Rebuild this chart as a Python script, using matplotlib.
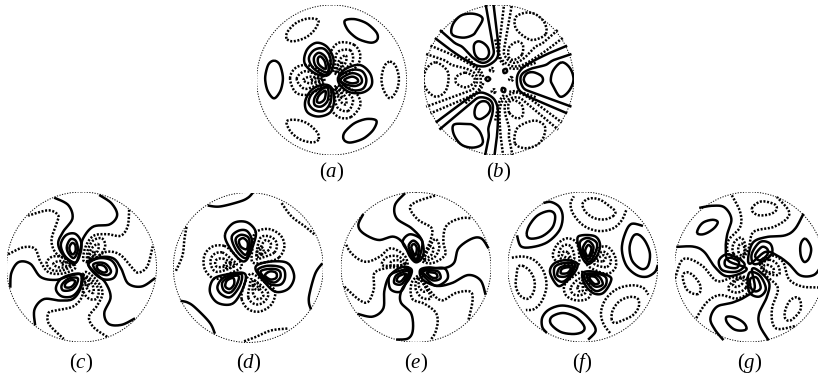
# -*- coding: utf-8 -*-

import matplotlib
matplotlib.use('Agg')
import matplotlib.pyplot as plt
import numpy as np

plt.rcParams['mathtext.fontset'] = 'custom'
plt.rcParams['mathtext.it'] = 'Liberation Serif:italic'
plt.rcParams['mathtext.rm'] = 'Liberation Serif'
plt.rcParams['font.family'] = ['Liberation Serif']

# contours, one sector per panel (the rest follows from the
# threefold symmetry). units: 225 = disc radius, y pointing down
a_solid_closed = [
    [(20,-10),(45,-35),(85,-45),(115,-20),(120,15),(95,37),(55,37),(25,15)],
    [(22,-5),(55,-29),(90,-27),(104,0),(92,27),(55,28)],
    [(27,-2),(58,-20),(84,-13),(90,7),(70,18),(40,12)],
    [(38,-1),(60,-10),(76,-4),(78,6),(62,10),(46,6)],
    [(-173,-58),(-157,-48),(-148,-20),(-147,5),(-155,35),(-173,55),(-191,35),(-199,5),(-198,-20),(-189,-48)],
]
a_dot_closed = [
    [(-125,-5),(-110,-35),(-80,-45),(-50,-35),(-25,-10),(-25,8),(-50,35),(-80,45),(-110,35)],
    [(-105,-3),(-85,-25),(-60,-22),(-30,-5),(-30,5),(-60,22),(-85,25)],
    [(-85,0),(-65,-10),(-35,-3),(-35,3),(-65,10)],
    [(-62,0),(-45,-5),(-28,0),(-45,5)],
    [(175,-55),(190,-45),(200,-18),(201,8),(193,35),(175,55),(158,35),(150,8),(151,-18),(160,-45)],
]

b_solid_open = [
    [(205,-103),(150,-80),(100,-55),(70,-35),(55,-10),(58,25),(80,45),(130,68),(205,100)],
    [(218,-78),(165,-60),(140,-45),(100,-35),(72,-20),(65,0),(75,25),(100,37),(150,55),(218,80)],
]
b_solid_closed = [
    [(75,-3),(85,-20),(105,-23),(128,-12),(132,3),(120,15),(100,20),(82,13)],
    [(189,-53),(214,-35),(224,0),(209,35),(184,50),(164,20),(156,0),(164,-30)],
    [(-33,-9),(-26,-3),(-33,3),(-40,-3)],
]
b_dot_open = [
    [(-205,-103),(-150,-80),(-100,-55),(-70,-35),(-55,-10),(-58,25),(-80,45),(-130,68),(-205,100)],
    [(-218,-78),(-165,-60),(-140,-45),(-100,-35),(-72,-20),(-65,0),(-75,25),(-100,37),(-150,55),(-218,80)],
    [(-100,-70),(-75,-48),(-55,-28),(-46,-8)],
    [(-100,70),(-75,48),(-55,28),(-46,8)],
]
b_dot_closed = [
    [(-101,-22),(-78,-12),(-72,0),(-78,12),(-101,22),(-125,12),(-130,0),(-125,-12)],
    [(-189,-53),(-156,-30),(-151,0),(-161,35),(-189,50),(-216,30),(-226,0),(-216,-35)],
    [(37,-9),(43,-3),(37,3),(31,-3)],
]

c_solid_open = [
    [(-82,-208),(-40,-186),(-27,-146),(-55,-106),(-70,-71),(-55,-36),(-20,-11),(-5,-46),(5,-86),
     (35,-121),(85,-128),(107,-156),(90,-191),(53,-216)],
]
c_solid_closed = [
    [(-62,-66),(-47,-95),(-20,-100),(-2,-78),(-2,-46),(-18,-14),(-48,-31)],
    [(-44,-61),(-33,-83),(-17,-78),(-11,-51),(-23,-27),(-39,-41)],
    [(-36,-60),(-28,-72),(-19,-66),(-18,-48),(-26,-38),(-34,-46)],
]
c_dot_open = [
    [(-220,-38),(-175,-59),(-140,-55),(-125,-20),(-100,15),(-60,20),(-20,5),(-30,-15),(-75,-40),
     (-90,-80),(-75,-130),(-70,-155),(-100,-170),(-160,-154)],
]
c_dot_closed = [
    [(-105,-10),(-90,-30),(-60,-30),(-25,-10),(-50,8),(-85,10)],
    [(-85,-8),(-65,-18),(-30,-8),(-60,2)],
    [(-60,-10),(-45,-14),(-26,-6),(-45,-3)],
]

d_solid_open = [
    [(-122,-186),(-85,-183),(-25,-198),(0,-210),(15,-226)],
]
d_solid_closed = [
    [(-70,-98),(-45,-133),(-5,-136),(22,-108),(15,-68),(-5,-23),(-25,-23),(-55,-58)],
    [(-50,-90),(-30,-110),(-5,-110),(10,-85),(5,-55),(-8,-28),(-35,-50)],
    [(-38,-85),(-22,-98),(0,-90),(3,-65),(-8,-38),(-30,-60)],
    [(-28,-80),(-15,-88),(-2,-75),(-5,-55),(-22,-62)],
]
d_dot_open = [
    [(100,-193),(130,-153),(170,-123),(200,-98)],
]
d_dot_closed = [
    [(-20,95),(-15,60),(0,25),(15,20),(50,45),(80,70),(70,110),(35,132),(0,125)],
    [(0,90),(5,50),(10,35),(40,55),(60,80),(45,105),(20,110)],
    [(15,80),(15,50),(35,65),(45,85),(30,95)],
    [(15,55),(14,38),(26,45),(35,60),(25,68)],
]

e_solid_open = [
    [(-33,-222),(-63,-187),(-58,-147),(-13,-117),(17,-82),(22,-37),(2,-15),(-18,-32),(-38,-72),
     (-68,-92),(-113,-82),(-158,-102),(-173,-127),(-158,-160)],
]
e_solid_closed = [
    [(-40,-77),(-18,-99),(17,-82),(15,-47),(2,-19),(-23,-47)],
    [(-22,-65),(-8,-80),(8,-65),(7,-40),(0,-24),(-15,-45)],
    [(-14,-62),(-6,-70),(2,-60),(1,-44),(-3,-36),(-10,-48)],
]
e_dot_open = [
    [(57,-215),(2,-197),(-18,-177),(7,-142),(47,-117),(42,-77),(22,-37),(12,-22),(47,-12),(87,-37),
     (82,-77),(87,-117),(107,-137),(140,-148),(167,-147)],
]
e_dot_closed = [
    [(25,-22),(55,-30),(70,-60),(58,-85),(40,-60)],
    [(25,-28),(45,-36),(52,-55),(42,-62)],
]

f_solid_open = [
    [(-118,-192),(-95,-195),(-70,-180),(-60,-150),(-70,-110),(-105,-75),(-150,-60),(-185,-62),(-197,-95)],
]
f_solid_closed = [
    [(-16,-82),(-3,-95),(37,-92),(52,-67),(42,-32),(17,-9),(-3,-32)],
    [(-8,-75),(15,-87),(42,-72),(37,-40),(18,-16),(-3,-45)],
    [(2,-62),(16,-78),(32,-62),(27,-38),(15,-24),(2,-45)],
    [(9,-55),(17,-66),(26,-57),(22,-40),(15,-32),(8,-44)],
    [(-168,-97),(-160,-125),(-135,-155),(-100,-168),(-83,-155),(-90,-120),(-120,-93),(-155,-85)],
]
f_dot_open = [
    [(82,198),(62,170),(55,135),(70,95),(105,65),(150,55),(182,63),(197,83)],
]
f_dot_closed = [
    [(-55,55),(-30,30),(0,15),(15,40),(25,70),(15,95),(-20,100),(-50,85)],
    [(-35,60),(-10,35),(5,50),(10,75),(-10,85),(-30,80)],
    [(-15,60),(-3,45),(0,70),(-12,72)],
    [(87,158),(90,130),(110,103),(140,90),(165,95),(168,120),(150,145),(120,160),(97,168)],
]

g_solid_open = [
    [(162,-160),(137,-115),(107,-95),(52,-90),(12,-75),(-3,-35),(2,-10),(47,-45),(82,-35),(117,-10),
     (152,25),(193,24),(215,-5),(229,-42)],
]
g_solid_closed = [
    [(7,-40),(32,-75),(62,-70),(67,-40),(37,-15),(12,-10)],
    [(17,-35),(37,-60),(54,-53),(52,-35),(30,-20)],
    [(167,-85),(180,-70),(185,-50),(178,-25),(165,-15),(155,-30),(152,-55),(156,-75)],
]
g_dot_open = [
    [(-53,-215),(-28,-165),(-28,-120),(-63,-80),(-63,-40),(-28,-20),(-3,-55),(12,-105),(72,-120),
     (112,-145),(117,-170),(82,-210)],
]
g_dot_closed = [
    [(7,-175),(20,-190),(42,-197),(77,-187),(80,-170),(60,-158),(30,-155),(12,-163)],
    [(-48,-40),(-48,-70),(-25,-88),(-12,-60),(-22,-28)],
    [(-32,-42),(-33,-62),(-23,-70),(-15,-55),(-20,-35)],
]

panel_labels = ['a', 'b', 'c', 'd', 'e', 'f', 'g']
panel_x = [331.7, 498.8, 81.5, 248.3, 416.0, 582.7, 749.5]
panel_y = [80, 80, 267, 267.5, 267.3, 267, 267]
label_y = [172, 172, 363, 363, 363, 363, 363]

panel_contours = {
    'a': ([], a_solid_closed, [], a_dot_closed),
    'b': (b_solid_open, b_solid_closed, b_dot_open, b_dot_closed),
    'c': (c_solid_open, c_solid_closed, c_dot_open, c_dot_closed),
    'd': (d_solid_open, d_solid_closed, d_dot_open, d_dot_closed),
    'e': (e_solid_open, e_solid_closed, e_dot_open, e_dot_closed),
    'f': (f_solid_open, f_solid_closed, f_dot_open, f_dot_closed),
    'g': (g_solid_open, g_solid_closed, g_dot_open, g_dot_closed),
}

W, H = 818, 379
R_PX = 75
LW = 1.8
#------------------------------------------------------#

def smooth(pts, closed):
    # Catmull-Rom through the traced points
    p = np.array(pts, dtype=float)
    if closed:
        p = np.vstack([p[-1], p, p[0], p[1]])
    else:
        p = np.vstack([p[0], p, p[-1]])
    t = np.linspace(0, 1, 16)[:, None]
    out = []
    for i in range(1, len(p) - 2):
        p0, p1, p2, p3 = p[i-1], p[i], p[i+1], p[i+2]
        out.append(0.5*(2*p1 + (p2-p0)*t + (2*p0-5*p1+4*p2-p3)*t**2 + (3*p1-p0-3*p2+p3)*t**3))
    return np.vstack(out)

def rotate(xy, k):
    ang = 2*np.pi*k/3
    c, s = np.cos(ang), np.sin(ang)
    return np.column_stack([c*xy[:, 0] - s*xy[:, 1], s*xy[:, 0] + c*xy[:, 1]])

def draw(ax, curves, closed, dotted):
    for pts in curves:
        xy = smooth(pts, closed)
        for k in range(3):
            r = rotate(xy, k)
            if dotted:
                ax.plot(r[:, 0], r[:, 1], color='k', lw=LW, dashes=(0.8, 0.65), dash_capstyle='butt')
            else:
                ax.plot(r[:, 0], r[:, 1], color='k', lw=LW, solid_capstyle='butt')

#------------------------------------------------------#

fig = plt.figure(figsize=(W/100, H/100), dpi=100)

for name, cx, cy, ly in zip(panel_labels, panel_x, panel_y, label_y):
    ax = fig.add_axes([(cx-R_PX)/W, 1-(cy+R_PX)/H, 2*R_PX/W, 2*R_PX/H])
    ax.set_xlim(-225, 225)
    ax.set_ylim(225, -225)
    ax.axis('off')
    ax.add_patch(plt.Circle((0, 0), 225, fill=False, color='k', lw=0.7, ls=(0, (1.2, 1.5))))
    s_open, s_closed, d_open, d_closed = panel_contours[name]
    draw(ax, s_open, False, False)
    draw(ax, s_closed, True, False)
    draw(ax, d_open, False, True)
    draw(ax, d_closed, True, True)
    fig.text(cx/W, 1-ly/H, '($\\mathit{' + name + '}$)', fontsize=15, ha='center', va='center')

fig.savefig('out.png', dpi=100)
